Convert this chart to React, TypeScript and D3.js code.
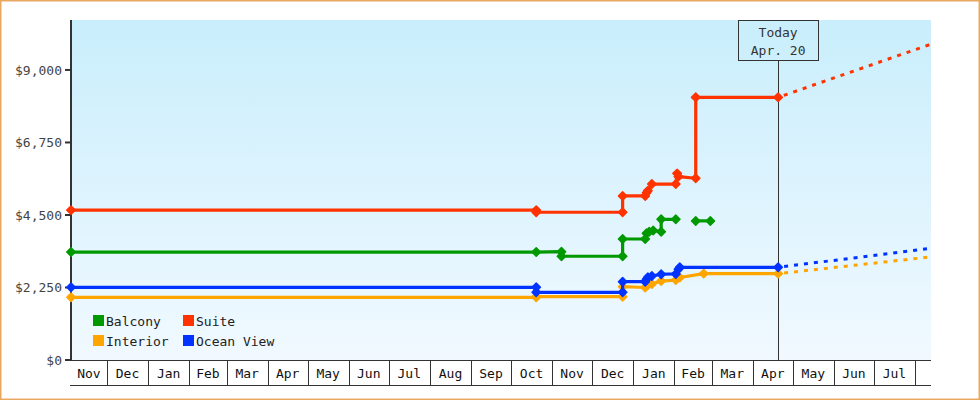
import React from 'react';
import * as d3 from 'd3';

// ---------- data ----------
const startDate = '2017-11-04';
const endDate = '2019-08-13';
const todayDate = '2019-04-20';
const todayLabel = ['Today', 'Apr. 20'];
const yTicks = [0, 2250, 4500, 6750, 9000];
const yMax = 10550;

type Pt = [string, number | null];

const balcony: Pt[] = [
  ['2017-11-04', 3350], ['2018-10-20', 3350], ['2018-11-08', 3360], ['2018-11-08', 3220],
  ['2018-12-24', 3220], ['2018-12-24', 3755], ['2019-01-10', 3755], ['2019-01-11', 3930],
  ['2019-01-13', 3980], ['2019-01-16', 4020], ['2019-01-22', 3980], ['2019-01-22', 4365],
  ['2019-02-02', 4365], ['2019-02-10', null], ['2019-02-17', 4315], ['2019-02-28', 4315],
];
const suite: Pt[] = [
  ['2017-11-04', 4650], ['2018-10-20', 4650], ['2018-10-20', 4585], ['2018-12-24', 4585],
  ['2018-12-24', 5090], ['2019-01-10', 5090], ['2019-01-11', 5190], ['2019-01-12', 5255],
  ['2019-01-15', 5460], ['2019-02-02', 5460], ['2019-02-03', 5790], ['2019-02-04', 5690],
  ['2019-02-17', 5640], ['2019-02-17', 8150], ['2019-04-20', 8150],
];
const interior: Pt[] = [
  ['2017-11-04', 1945], ['2018-10-20', 1945], ['2018-10-20', 1965], ['2018-12-24', 1965],
  ['2018-12-24', 2275], ['2019-01-10', 2250], ['2019-01-12', 2330], ['2019-01-15', 2360],
  ['2019-01-22', 2450], ['2019-02-02', 2480], ['2019-02-05', 2560], ['2019-02-23', 2680],
  ['2019-04-20', 2680],
];
const oceanView: Pt[] = [
  ['2017-11-04', 2255], ['2018-10-20', 2255], ['2018-10-20', 2100], ['2018-12-24', 2100],
  ['2018-12-24', 2430], ['2019-01-10', 2430], ['2019-01-11', 2505], ['2019-01-12', 2565],
  ['2019-01-15', 2605], ['2019-01-22', 2660], ['2019-02-02', 2670], ['2019-02-04', 2815],
  ['2019-02-05', 2877], ['2019-04-20', 2877],
];
const suiteForecast: Pt[] = [['2019-04-20', 8150], ['2019-08-13', 9800]];
const interiorForecast: Pt[] = [['2019-04-20', 2680], ['2019-08-13', 3200]];
const oceanViewForecast: Pt[] = [['2019-04-20', 2877], ['2019-08-13', 3465]];

const legendNames = ['Balcony', 'Suite', 'Interior', 'Ocean View'];

// ---------- styles ----------
const COLORS: Record<string, string> = {
  Balcony: '#009900',
  Suite: '#ff3300',
  Interior: '#ffa500',
  'Ocean View': '#0033ff',
};
const FONT = '"DejaVu Sans Mono", monospace';
const INK = '#333333';

const W = 980, H = 400;
const L = 71, R = 931, T = 20, B = 360, AXB = 385;

const parse = d3.timeParse('%Y-%m-%d');

export default function App() {
  const x = d3.scaleTime().domain([parse(startDate)!, parse(endDate)!]).range([L, R]);
  const y = d3.scaleLinear().domain([0, yMax]).range([B, T]);

  const line = d3
    .line<Pt>()
    .defined((d) => d[1] !== null)
    .x((d) => x(parse(d[0])!))
    .y((d) => y(d[1] as number));

  const months = d3.timeMonth.range(x.domain()[0], x.domain()[1]);
  const bounds = [x.domain()[0], ...months, x.domain()[1]];
  const cells = bounds.slice(0, -1).map((d, i) => ({ a: x(d), b: x(bounds[i + 1]), d }));
  const fmt = d3.timeFormat('%b');

  const series: { name: string; data: Pt[]; fc?: Pt[] }[] = [
    { name: 'Balcony', data: balcony },
    { name: 'Interior', data: interior, fc: interiorForecast },
    { name: 'Ocean View', data: oceanView, fc: oceanViewForecast },
    { name: 'Suite', data: suite, fc: suiteForecast },
  ];

  const tx = x(parse(todayDate)!);
  const diamond = 'M0,-4.2L4.2,0L0,4.2L-4.2,0Z';

  return (
    <svg width={W} height={H} style={{ position: 'absolute', left: 0, top: 0 }} fontFamily={FONT}>
      <defs>
        <linearGradient id="bg" x1="0" y1="0" x2="0" y2="1">
          <stop offset="0%" stopColor="#c9eefc" />
          <stop offset="100%" stopColor="#f1f9ff" />
        </linearGradient>
      </defs>
      <rect x={0} y={0} width={W} height={H} fill="#ffffff" />
      <rect x={0.75} y={0.75} width={W - 1.5} height={H - 1.5} fill="none" stroke="#e9a862" strokeWidth={1.5} />
      <rect x={L} y={T} width={R - L} height={B - T} fill="url(#bg)" />

      {/* month axis band */}
      <line x1={L} x2={R} y1={B + 0.5} y2={B + 0.5} stroke={INK} strokeWidth={1} />
      <line x1={L - 1} x2={R} y1={AXB + 0.5} y2={AXB + 0.5} stroke={INK} strokeWidth={1} />
      {months.map((m, i) => (
        <line key={'s' + i} x1={Math.round(x(m)) + 0.5} x2={Math.round(x(m)) + 0.5} y1={B} y2={AXB} stroke={INK} strokeWidth={1} />
      ))}
      {cells.map((c, i) =>
        c.b - c.a > 25 ? (
          <text key={'m' + i} x={(c.a + c.b) / 2} y={378} textAnchor="middle" fontSize={13} fill="#111">
            {fmt(c.d)}
          </text>
        ) : null
      )}

      {/* y axis */}
      <line x1={L} x2={L} y1={T} y2={B + 1} stroke={INK} strokeWidth={2} />
      {yTicks.map((t) => (
        <g key={'y' + t}>
          <line x1={L - 6} x2={L} y1={y(t)} y2={y(t)} stroke={INK} strokeWidth={2} />
          <text x={62} y={y(t)} dy="0.35em" textAnchor="end" fontSize={13} fill="#444">
            {d3.format('$,')(t)}
          </text>
        </g>
      ))}

      {/* today marker */}
      <line x1={Math.round(tx) + 0.5} x2={Math.round(tx) + 0.5} y1={61} y2={B} stroke={INK} strokeWidth={1} />
      <rect x={Math.round(tx) - 40 + 0.5} y={T + 0.5} width={80} height={40} fill="none" stroke={INK} strokeWidth={1} />
      <text x={tx} y={37} textAnchor="middle" fontSize={13} fill={INK}>{todayLabel[0]}</text>
      <text x={tx} y={55} textAnchor="middle" fontSize={13} fill={INK}>{todayLabel[1]}</text>

      {/* series */}
      {series.map((s) => (
        <g key={s.name}>
          {s.fc && (
            <path d={line(s.fc) || ''} fill="none" stroke={COLORS[s.name]} strokeWidth={3} strokeDasharray="4,6" strokeDashoffset={-6} />
          )}
          <path d={line(s.data) || ''} fill="none" stroke={COLORS[s.name]} strokeWidth={3.2} strokeLinejoin="round" />
          {s.data
            .filter((d) => d[1] !== null)
            .map((d, i) => (
              <path
                key={i}
                d={diamond}
                transform={`translate(${x(parse(d[0])!)},${y(d[1] as number)})`}
                fill={COLORS[s.name]}
                stroke={COLORS[s.name]}
                strokeWidth={1.5}
                strokeLinejoin="round"
              />
            ))}
        </g>
      ))}

      {/* legend */}
      {legendNames.map((n, i) => {
        const col = i % 2, row = Math.floor(i / 2);
        const lx = 93 + col * 90, ly = 315 + row * 20;
        return (
          <g key={n}>
            <rect x={lx} y={ly} width={11} height={11} fill={COLORS[n]} />
            <text x={lx + 13} y={ly + 11} fontSize={13} fill="#222">{n}</text>
          </g>
        );
      })}
    </svg>
  );
}
